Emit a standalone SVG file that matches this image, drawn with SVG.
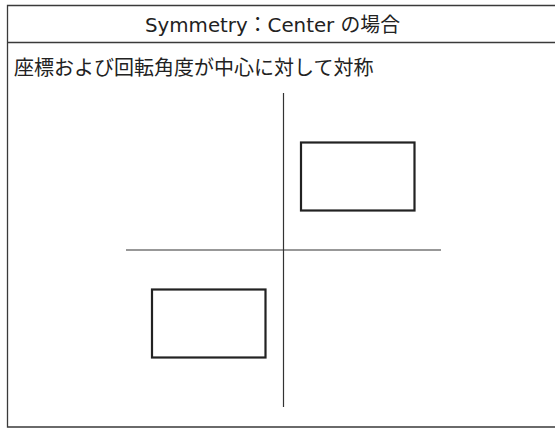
<svg xmlns="http://www.w3.org/2000/svg" width="555" height="428" viewBox="0 0 555 428">
<style>
.frame{fill:none;stroke:#3a3a3a;stroke-width:1.3}
.axis{fill:none;stroke:#333;stroke-width:1.2}
.box{fill:#fff;stroke:#222;stroke-width:2.2}
text{font-family:"DejaVu Sans","Noto Sans CJK JP",sans-serif;font-size:20px;fill:#222}
.desc{font-family:"Liberation Sans","Noto Sans CJK JP",sans-serif}
</style>
<rect width="555" height="428" fill="#fff"/>
<g id="frame">
<path class="frame" d="M556,5.5 H7.5 V427 H556"/>
<line class="frame" x1="7.5" y1="42.5" x2="556" y2="42.5"/>
</g>
<g id="title"><text x="145" y="31.5" font-size="21" textLength="255" lengthAdjust="spacingAndGlyphs">Symmetry：Center の場合</text></g>
<g id="desc"><text class="desc" x="14" y="75">座標および回転角度が中心に対して対称</text></g>
<g id="axes">
<line class="axis" x1="283.5" y1="93" x2="283.5" y2="407"/>
<line class="axis" x1="126" y1="250" x2="441" y2="250"/>
</g>
<g id="rect-upper"><rect class="box" x="301" y="142.5" width="113.5" height="68"/></g>
<g id="rect-lower"><rect class="box" x="152" y="289.5" width="113.5" height="68"/></g>
</svg>
